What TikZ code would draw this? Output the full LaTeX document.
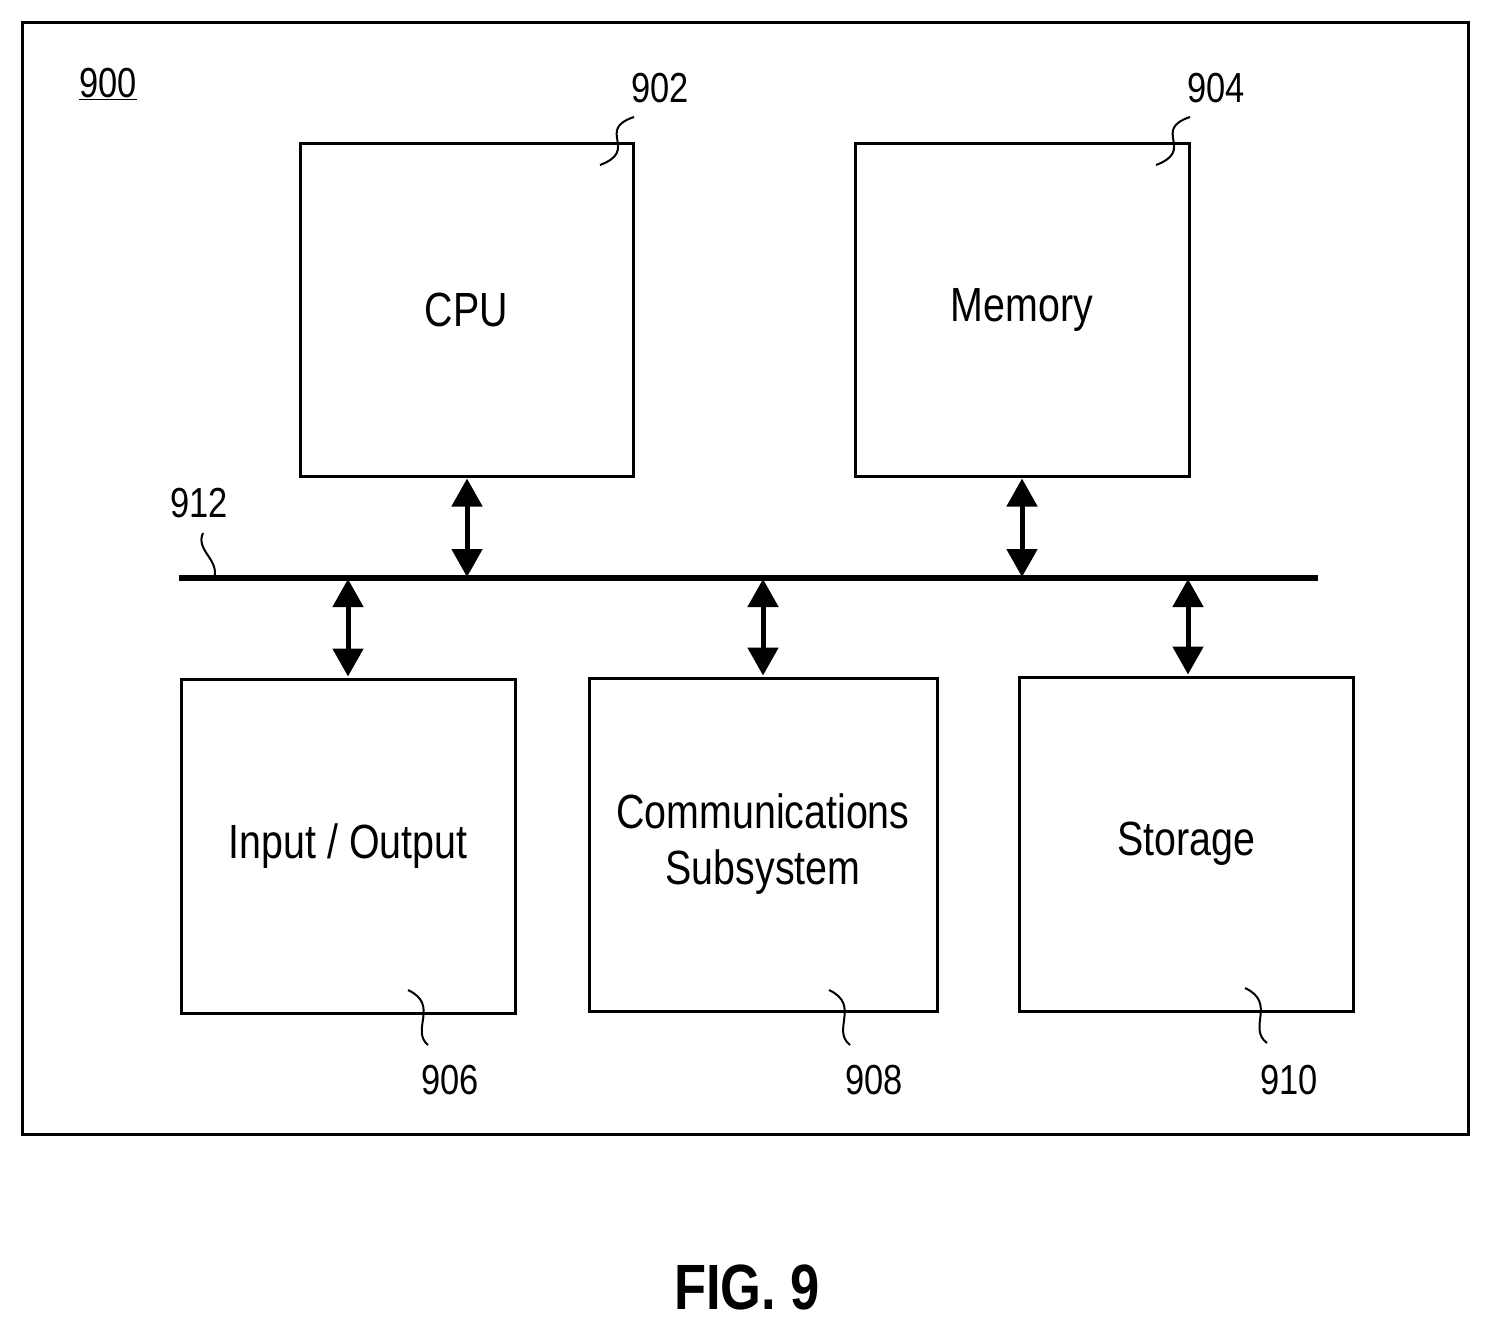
\documentclass[tikz,border=0pt]{standalone}
\usepackage{fontspec}
\setmainfont[FakeStretch=0.82]{Liberation Sans}
\usetikzlibrary{arrows.meta}
\begin{document}
\begin{tikzpicture}[x=1pt,y=-1pt,
  box/.style={draw,line width=3pt,inner sep=0pt,align=center,font=\fontsize{48}{56}\selectfont},
  num/.style={font=\fontsize{42}{48}\selectfont,inner sep=0pt},
  dbl/.style={line width=5pt,{Triangle[length=28pt,width=30pt]}-{Triangle[length=28pt,width=30pt]},shorten <=1pt,shorten >=1pt},
  lead/.style={line width=2pt}]
\useasboundingbox (0,0) rectangle (1490,1331);
\draw[line width=3pt] (22,22) rectangle (1468,1134);
\node[box,minimum width=333pt,minimum height=333pt] (cpu) at (466.5,309.5) {CPU};
\node[box,minimum width=334pt,minimum height=333pt] (mem) at (1022,309.5) {Memory};
\node[box,minimum width=334pt,minimum height=334pt] (io) at (348,846) {Input / Output};
\node[box,minimum width=348pt,minimum height=333pt] (com) at (763,844.5) {Communications\\Subsystem};
\node[box,minimum width=334pt,minimum height=334pt] (sto) at (1186,844) {Storage};
\coordinate (busL) at (179,578); \coordinate (busR) at (1318,578);
\draw[line width=6pt] (busL) -- (busR);
\coordinate (b1) at (467,578); \coordinate (b2) at (1022,578);
\coordinate (b3) at (348,578); \coordinate (b4) at (763,578); \coordinate (b5) at (1188,578);
\draw[dbl] (cpu.south -| b1) -- (b1);
\draw[dbl] (mem.south -| b2) -- (b2);
\draw[dbl] (b3) -- (io.north -| b3);
\draw[dbl] (b4) -- (com.north -| b4);
\draw[dbl] (b5) -- (sto.north -| b5);
\node[num] (n900) at (108,84) {\underline{900}};
\node[num] (n902) at (660,88) {902};
\node[num] (n904) at (1216,88) {904};
\node[num] (n912) at (199,503) {912};
\node[num] (n906) at (450,1080) {906};
\node[num] (n908) at (874,1080) {908};
\node[num] (n910) at (1289,1080) {910};
\node[font=\bfseries\fontsize{64}{70}\selectfont,inner sep=0pt] (fig) at (747,1287) {FIG. 9};
\coordinate (l2a) at (600,165); \coordinate (l2b) at (634,117);
\draw[lead] (l2a) .. controls (640,150) and (595,130) .. (l2b);
\coordinate (l4a) at (1156,165); \coordinate (l4b) at (1190,117);
\draw[lead] (l4a) .. controls (1196,150) and (1151,130) .. (l4b);
\coordinate (l12a) at (203,533); \coordinate (l12b) at (214,578);
\draw[lead] (l12a) .. controls (195,550) and (220,560) .. (l12b);
\coordinate (l6a) at (408,990); \coordinate (l6b) at (428,1045);
\draw[lead] (l6a) .. controls (440,1005) and (410,1030) .. (l6b);
\coordinate (l8a) at (829,990); \coordinate (l8b) at (850,1045);
\draw[lead] (l8a) .. controls (861,1005) and (831,1030) .. (l8b);
\coordinate (l10a) at (1245,988); \coordinate (l10b) at (1267,1043);
\draw[lead] (l10a) .. controls (1277,1003) and (1247,1028) .. (l10b);
\end{tikzpicture}
\end{document}
